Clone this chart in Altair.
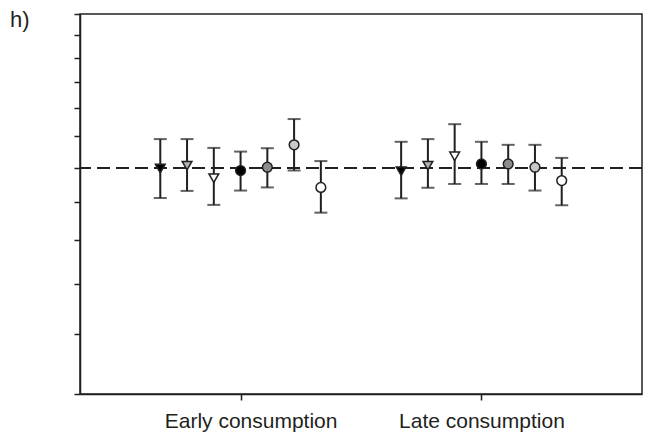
import altair as alt
import pandas as pd

groups = ["Early consumption", "Late consumption"]
series = ["S1", "S2", "S3", "S4", "S5", "S6", "S7"]
shapes = ["triangle-down", "triangle-down", "triangle-down", "circle", "circle", "circle", "circle"]
fills = ["#000000", "#b4b4b4", "#ffffff", "#000000", "#8c8c8c", "#c8c8c8", "#ffffff"]

early_mid = [0.997, 1.006, 0.968, 0.991, 1.001, 1.072, 0.941]
early_lo = [0.911, 0.931, 0.892, 0.932, 0.941, 0.991, 0.871]
early_hi = [1.091, 1.091, 1.062, 1.050, 1.061, 1.160, 1.020]
late_mid = [0.989, 1.006, 1.035, 1.011, 1.011, 1.001, 0.961]
late_lo = [0.910, 0.940, 0.951, 0.951, 0.951, 0.932, 0.891]
late_hi = [1.082, 1.091, 1.142, 1.082, 1.072, 1.072, 1.030]

y_ticks = [0.5, 0.6, 0.7, 0.8, 0.9, 1.0, 1.1, 1.2, 1.3, 1.4, 1.5, 1.6]
x_ticks = [1, 2]

rows = []
for gi, (mids, los, his) in enumerate([(early_mid, early_lo, early_hi), (late_mid, late_lo, late_hi)]):
    for k, s in enumerate(series):
        rows.append({
            "group": groups[gi],
            "series": s,
            "x": gi + 1 + (k - 3) / 9,
            "mid": mids[k],
            "lo": los[k],
            "hi": his[k],
        })
df = pd.DataFrame(rows)

FONT = "Liberation Sans"
INK = "#231f20"

xscale = alt.Scale(domain=[1 / 3, 8 / 3], nice=False, zero=False)
yscale = alt.Scale(type="log", domain=[0.5, 1.6], nice=False, zero=False)

xaxis = alt.Axis(
    values=x_ticks,
    labelExpr="datum.value == 1 ? 'Early consumption' : 'Late consumption'",
    title=None,
    grid=False,
    tickSize=6,
    tickWidth=1.5,
    tickColor=INK,
    domainColor=INK,
    domainWidth=1.5,
    labelFont=FONT,
    labelFontSize=21,
    labelColor=INK,
    labelPadding=10,
    labelOffset={"condition": {"test": "datum.value < 1.5", "value": 10}, "value": 0},
)
yaxis = alt.Axis(
    values=y_ticks,
    labels=False,
    title=None,
    grid=False,
    tickSize=6,
    tickWidth=1.5,
    tickColor=INK,
    domainColor=INK,
    domainWidth=1.5,
)

base = alt.Chart(df)

ref = alt.Chart(df).mark_rule(color=INK, strokeWidth=1.3, strokeDash=[13, 6]).encode(
    y=alt.datum(1.0, scale=yscale, axis=yaxis)
)

bars = base.mark_errorbar(ticks=True, size=13, thickness=2, color=INK).encode(
    x=alt.X("x:Q", scale=xscale, axis=xaxis),
    y=alt.Y("lo:Q", scale=yscale, axis=yaxis),
    y2="hi:Q",
)

pts = base.mark_point(filled=True, size=95, stroke=INK, strokeWidth=1.5, opacity=1).encode(
    x=alt.X("x:Q", scale=xscale, axis=xaxis),
    y=alt.Y("mid:Q", scale=yscale, axis=yaxis),
    shape=alt.Shape("series:N", scale=alt.Scale(domain=series, range=shapes), legend=None),
    fill=alt.Fill("series:N", scale=alt.Scale(domain=series, range=fills), legend=None),
)

chart = alt.layer(ref, bars, pts).properties(
    width=562,
    height=380,
    autosize=alt.AutoSizeParams(type="none"),
    padding={"left": 72, "top": 6, "right": 3, "bottom": 40},
    background="white",
    title=alt.TitleParams(
        text="h)",
        anchor="start",
        frame="group",
        orient="top",
        offset=0,
        dx=-70,
        dy=36,
        baseline="alphabetic",
        font=FONT,
        fontSize=22,
        fontWeight="normal",
        color=INK,
    ),
).configure_view(stroke=INK, strokeWidth=1.5)

chart.save("out.html", embed_options={"renderer": "svg", "actions": False})
